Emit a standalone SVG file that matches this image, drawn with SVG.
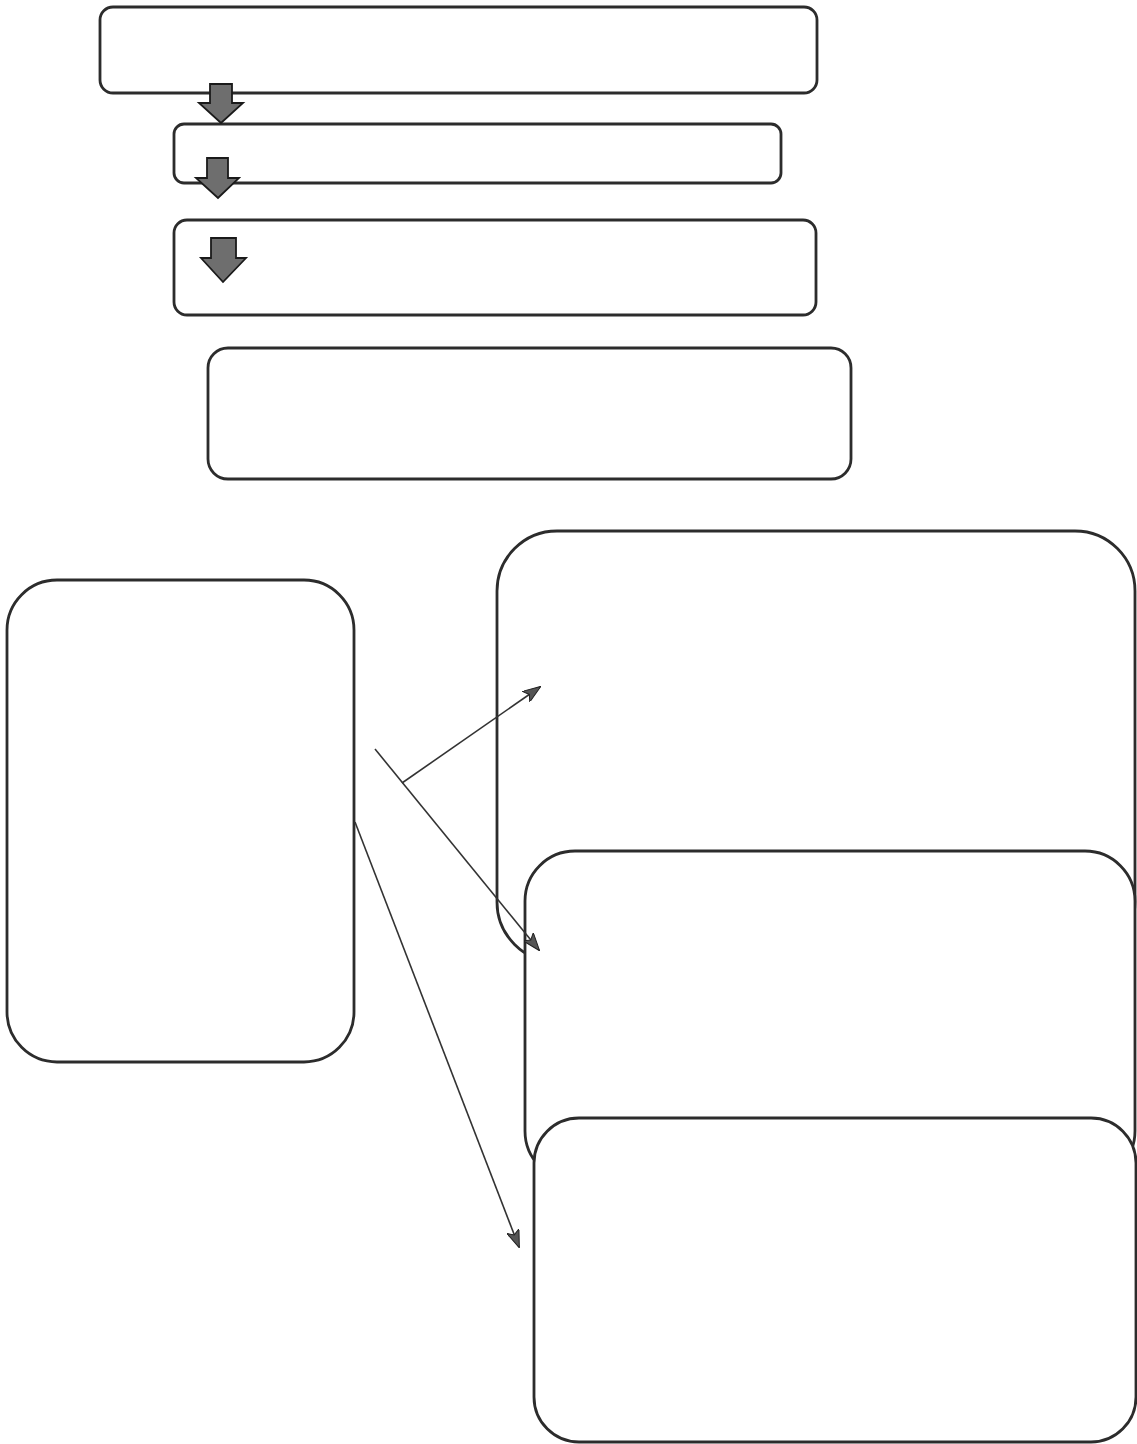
<svg xmlns="http://www.w3.org/2000/svg" width="1137" height="1444" viewBox="0 0 1137 1444">
<style>
.box{fill:#fff;stroke:#2c2c2c;stroke-width:2.8}
.blk{fill:#6e6e6e;stroke:#1a1a1a;stroke-width:1.8;stroke-linejoin:miter}
.con{fill:none;stroke:#333;stroke-width:1.6}
</style>
<defs>
<marker id="ah" markerWidth="18" markerHeight="13" refX="17" refY="6.5" orient="auto" markerUnits="userSpaceOnUse">
<path d="M0,0 L18,6.5 L0,13 L4,6.5 Z" fill="#555" stroke="#222" stroke-width="1"/>
</marker>
</defs>
<rect width="1137" height="1444" fill="#fff"/>
<g id="node-top1"><rect class="box" x="100" y="7" width="717" height="86" rx="13"/></g>
<g id="node-top2"><rect class="box" x="174" y="124" width="607" height="59" rx="10"/></g>
<g id="node-top3"><rect class="box" x="174" y="220" width="642" height="95" rx="13"/></g>
<g id="node-top4"><rect class="box" x="208" y="348" width="643" height="131" rx="20"/></g>
<g id="block-arrow1"><path class="blk" d="M210,84 H232 V103 H243 L221,123 L199,103 H210 Z"/></g>
<g id="block-arrow2"><path class="blk" d="M207,158 H228 V178 H239 L218,198 L196,178 H207 Z"/></g>
<g id="block-arrow3"><path class="blk" d="M211,238 H236 V258 H246 L223,282 L201,258 H211 Z"/></g>
<g id="node-left"><rect class="box" x="7" y="580" width="347" height="482" rx="50"/></g>
<g id="node-rightA"><rect class="box" x="497" y="531" width="638" height="431" rx="60"/></g>
<g id="node-rightB"><rect class="box" x="525" y="851" width="610" height="330" rx="50"/></g>
<g id="node-rightC"><rect class="box" x="534" y="1118" width="602" height="324" rx="45"/></g>
<g id="connectors">
<line class="con" x1="375" y1="749" x2="539" y2="950" marker-end="url(#ah)"/>
<line class="con" x1="402" y1="783" x2="540" y2="687" marker-end="url(#ah)"/>
<line class="con" x1="355" y1="822" x2="519" y2="1247" marker-end="url(#ah)"/>
</g>
</svg>
